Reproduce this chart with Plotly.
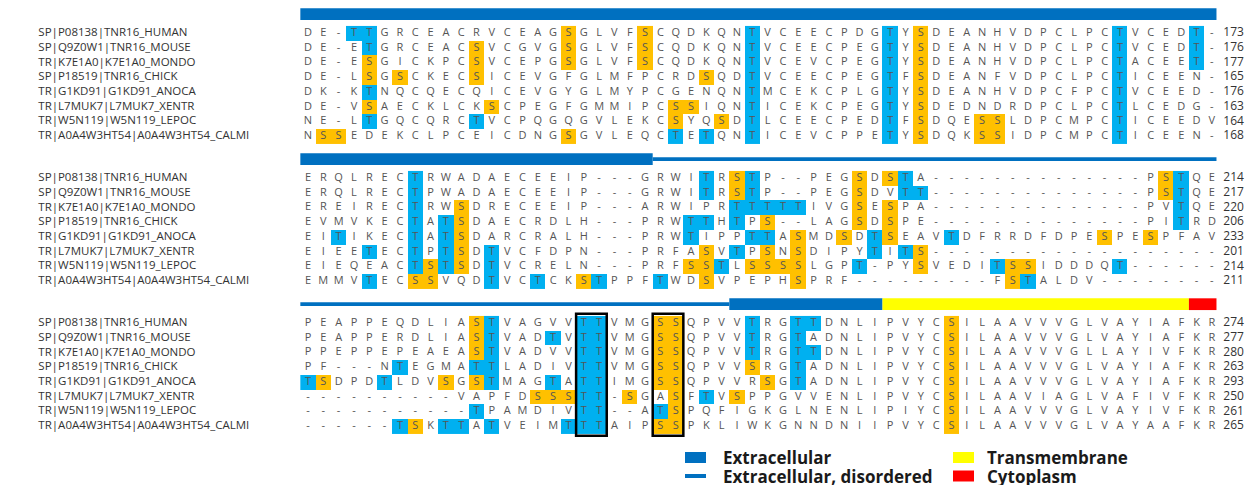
import plotly.graph_objects as go

# ---------------- data ----------------
labels = ["SP|P08138|TNR16_HUMAN", "SP|Q9Z0W1|TNR16_MOUSE", "TR|K7E1A0|K7E1A0_MONDO",
          "SP|P18519|TNR16_CHICK", "TR|G1KD91|G1KD91_ANOCA", "TR|L7MUK7|L7MUK7_XENTR",
          "TR|W5N119|W5N119_LEPOC", "TR|A0A4W3HT54|A0A4W3HT54_CALMI"]

block1 = [
    "DE-TTGRCEACRVCEAGSGLVFSCQDKQNTVCEECPDGTYSDEANHVDPCLPCTVCEDT-",
    "DE-ETGRCEACSVCGVGSGLVFSCQDKQNTVCEECPEGTYSDEANHVDPCLPCTVCEDT-",
    "DE-ESGICKPCSVCEPGSGLVFSCQDKQNTVCEVCPEGTYSDEANHVDPCLPCTACEET-",
    "DE-LSGSCKECSICEVGFGLMFPCRDSQDTVCEECPEGTFSDEANFVDPCLPCTICEEN-",
    "DK-KTNQCQECQICEVGYGLMYPCGENQNTMCEKCPLGTYSDEANHVDPCFPCTVCEED-",
    "DE-VSAECKLCKSCPEGFGMMIPCSSIQNTICEKCPEGTYSDEDNDRDPCLPCTLCEDG-",
    "NE-LTGQCQRCTVCPQGQGVLEKCSYQSDTLCEECPEDTFSDQESSLDPCMPCTICEEDV",
    "NSSEDEKCLPCEICDNGSGVLEQCTETQNTICEVCPPETYSDQKSSIDPCMPCTICEEN-",
]
block2 = [
    "ERQLRECTRWADAECEEIP---GRWITRSTP--PEGSDSTA--------------PSTQE",
    "ERQLRECTPWADAECEEIP---GRWITRSTP--PEGSDVTT--------------PSTQE",
    "EREIRECTRWSDRECEEIP---ARWIPRTTTTTIVGSESPA--------------PVTQE",
    "EVMVKECTATSDAECRDLH---PRWTTHTPS--LAGSDSPE--------------PITRD",
    "EITIKECTATSDARCRALH---PRWTIPPTTASMDSDTSEAVTDFRRDFDPESPESPFAV",
    "EIEETECTPTSDTVCFDPN---PRFASVTPSNSDIPYTITS-------------------",
    "EIEQEACTSTSDTVCRELN---PRFSSTLSSSSLGPT-PYSVEDITSSIDDDQT------",
    "EMMVTECSSVQDTVCTCKSTPPFTWDSVPEPHSPRF---------FSTALDV--------",
]
block3 = [
    "PEAPPEQDLIASTVAGVVTTVMGSSQPVVTRGTTDNLIPVYCSILAAVVVGLVAYIAFKR",
    "PEAPPERDLIASTVADTVTTVMGSSQPVVTRGTADNLIPVYCSILAAVVVGLVAYIAFKR",
    "PPEPPEPEAEASTVADVVTTVMGSSQPVVTRGTTDNLIPVYCSILAAVVVGLLAYIVFKR",
    "PF---NTEGMATTLADIVTTVMGSSQPVVSRGTADNLIPVYCSILAAVVVGLVAYIAFKR",
    "TSDPDTLDVSGSTMAGTATTIMGSSQPVVRSGTADNLIPVYCSILAAVVVGLVAYIAFKR",
    "----------VAPFDSSSTT-SGASFTVSPPGVVENLIPVYCSILAAVIAGLVAFIVFKR",
    "-----------TPAMDIVTT--ATSPQFIGKGLNENLIPIYCSILAAVVVGLVAYIVFKR",
    "------TSKTTATVEIMTTTAIPSSPKLIWKGNNDNIIPVYCSILAAVVVGLVAYAAFKR",
]
ends1 = [173, 176, 177, 165, 176, 163, 164, 168]
ends2 = [214, 217, 220, 206, 233, 201, 214, 211]
ends3 = [274, 277, 280, 263, 293, 250, 261, 265]

# topology annotation per block: (first column, last column, region)
domains1 = [(1, 60, "Extracellular")]
domains2 = [(1, 23, "Extracellular"), (24, 60, "Extracellular, disordered")]
domains3 = [(1, 28, "Extracellular, disordered"), (29, 38, "Extracellular"),
            (39, 58, "Transmembrane"), (59, 60, "Cytoplasm")]
# boxed column pairs in block 3
boxed3 = [(19, 20), (24, 25)]

legend_items = ["Extracellular", "Extracellular, disordered", "Transmembrane", "Cytoplasm"]

# ---------------- styling ----------------
region_color = {"Extracellular": "#0070C0", "Extracellular, disordered": "#0070C0",
                "Transmembrane": "#FFFF00", "Cytoplasm": "#FF0000"}
region_half = {"Extracellular": 0.40, "Extracellular, disordered": 0.13,
               "Transmembrane": 0.40, "Cytoplasm": 0.40}
BLUE_HL = "#00B0F0"
ORANGE_HL = "#FFC000"
SEQ_FONT = dict(family="Open Sans", size=11, color="#555555")

PAGE_OFF = 8            # browser body margin
W, H = 1255 - PAGE_OFF, 485 - PAGE_OFF
COL1_PX, PITCH = 308.0 - PAGE_OFF, 15.32
ROW1_PX, ROWH = 33.3 - PAGE_OFF, 14.7
BLOCK_STRIDE = 145.0 / ROWH
BAR_OFFSET = -1.3

fig = go.Figure()

blocks = [(block1, ends1, domains1), (block2, ends2, domains2), (block3, ends3, domains3)]
lab_x, lab_y, lab_t = [], [], []
num_x, num_y, num_t = [], [], []
for b, (seqs, ends, doms) in enumerate(blocks):
    off = b * BLOCK_STRIDE
    ncol = len(seqs[0])
    cols = list(range(1, ncol + 1))
    rows_y = [off + r for r in range(len(seqs))]
    # highlight cells (S orange, T blue)
    z = []
    for s in seqs:
        z.append([2 if ch == "S" else (1 if ch == "T" else None) for ch in s])
    fig.add_trace(go.Heatmap(
        z=z, x=cols, y=rows_y, zmin=1, zmax=2,
        colorscale=[[0, BLUE_HL], [0.5, BLUE_HL], [0.5, ORANGE_HL], [1, ORANGE_HL]],
        showscale=False, hoverinfo="skip", xgap=0, ygap=0))
    # letters
    xs, ys, ts = [], [], []
    for r, s in enumerate(seqs):
        for c, ch in enumerate(s):
            xs.append(c + 1)
            ys.append(off + r)
            ts.append(ch)
    fig.add_trace(go.Scatter(x=xs, y=ys, text=ts, mode="text",
                             textfont=SEQ_FONT, hoverinfo="skip"))
    for r in range(len(seqs)):
        lab_x.append(-16.6)
        lab_y.append(off + r)
        lab_t.append(labels[r])
        num_x.append(60.75)
        num_y.append(off + r)
        num_t.append(str(ends[r]))
    # topology bar
    for (c0, c1, reg) in doms:
        yc = off + BAR_OFFSET
        hh = region_half[reg]
        fig.add_shape(type="rect", xref="x", yref="y",
                      x0=c0 - 0.5, x1=min(c1 + 0.5, 60.3), y0=yc - hh, y1=yc + hh,
                      fillcolor=region_color[reg], line=dict(width=0), layer="below")

fig.add_trace(go.Scatter(x=lab_x, y=lab_y, text=lab_t, mode="text", textposition="middle right",
                         textfont=dict(family="Open Sans", size=11.5, color="#333333"),
                         hoverinfo="skip"))
fig.add_trace(go.Scatter(x=num_x, y=num_y, text=num_t, mode="text", textposition="middle right",
                         textfont=dict(family="Open Sans", size=12, color="#333333"),
                         hoverinfo="skip"))

# boxes in block 3
off3 = 2 * BLOCK_STRIDE
for (c0, c1) in boxed3:
    fig.add_shape(type="rect", xref="x", yref="y", x0=c0 - 0.5, x1=c1 + 0.5,
                  y0=off3 - 0.65, y1=off3 + 7.65,
                  line=dict(color="black", width=2.5), fillcolor="rgba(0,0,0,0)")

# legend (custom), positions given in reference-image pixels
def px(xp):
    return (xp - PAGE_OFF) / W

def py(yp):
    return 1 - (yp - PAGE_OFF) / H

leg_pos = {"Extracellular": (685, 457.5, 721), "Extracellular, disordered": (685, 476, 721),
           "Transmembrane": (953, 457.5, 985), "Cytoplasm": (953, 476, 985)}
for item in legend_items:
    sx, sy, tx = leg_pos[item]
    hh = 5.5 if region_half[item] > 0.2 else 2.0
    fig.add_shape(type="rect", xref="paper", yref="paper",
                  x0=px(sx), x1=px(sx + 21), y0=py(sy + hh), y1=py(sy - hh),
                  fillcolor=region_color[item], line=dict(width=0))
    fig.add_annotation(xref="paper", yref="paper", x=px(tx), y=py(sy), text="<b>" + item + "</b>",
                       showarrow=False, xanchor="left", yanchor="middle",
                       font=dict(family="Open Sans", size=17, color="#1a1a1a"))

x_lo = 1 - COL1_PX / PITCH
x_hi = 1 + (W - COL1_PX) / PITCH
y_top = -ROW1_PX / ROWH
y_bot = (H - ROW1_PX) / ROWH

fig.update_layout(
    width=W, height=H, margin=dict(l=0, r=0, t=0, b=0),
    paper_bgcolor="white", plot_bgcolor="white", showlegend=False,
    xaxis=dict(range=[x_lo, x_hi], visible=False, fixedrange=True),
    yaxis=dict(range=[y_bot, y_top], visible=False, fixedrange=True),
)

fig.write_html("out.html")
